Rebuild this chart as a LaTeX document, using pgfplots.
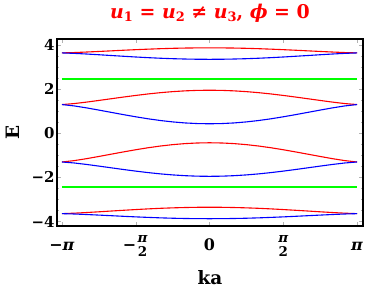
\documentclass[border=0pt]{standalone}
\usepackage{amsmath}
\usepackage{pgfplots}
\usepackage{pgfplotstable}
\pgfplotsset{compat=1.18}
\usepackage{fontspec}
\setmainfont{DejaVu Serif}
\definecolor{mred}{rgb}{1,0,0}
\definecolor{mblue}{rgb}{0,0,1}
\definecolor{mgreen}{rgb}{0,1,0}
\newcommand{\fr}{\ensuremath{\genfrac{}{}{0pt}{}{\text{\fontsize{13.5}{13.5}\selectfont\bfseries\itshape π}}{\text{\fontsize{13.5}{13.5}\selectfont\bfseries 2}}}}
\newcommand{\sub}[1]{\raisebox{-0.3ex}{\fontsize{13}{13}\selectfont\upshape #1}}
\pgfplotstableread{
k r1 b1 r2 b2 r3 b3 r4 b4
-3.14159 3.640 3.640 1.300 1.300 -1.300 -1.300 -3.640 -3.640
-2.87979 3.656 3.619 1.346 1.238 -1.238 -1.346 -3.619 -3.656
-2.61799 3.680 3.590 1.412 1.150 -1.150 -1.412 -3.590 -3.680
-2.35619 3.706 3.557 1.487 1.050 -1.050 -1.487 -3.557 -3.706
-2.09440 3.733 3.522 1.564 0.947 -0.947 -1.564 -3.522 -3.733
-1.83260 3.761 3.488 1.641 0.844 -0.844 -1.641 -3.488 -3.761
-1.57080 3.787 3.455 1.714 0.746 -0.746 -1.714 -3.455 -3.787
-1.30900 3.810 3.425 1.781 0.656 -0.656 -1.781 -3.425 -3.810
-1.04720 3.831 3.399 1.839 0.578 -0.578 -1.839 -3.399 -3.831
-0.78540 3.848 3.378 1.886 0.515 -0.515 -1.886 -3.378 -3.848
-0.52360 3.860 3.363 1.921 0.468 -0.468 -1.921 -3.363 -3.860
-0.26180 3.867 3.353 1.943 0.440 -0.440 -1.943 -3.353 -3.867
0.00000 3.870 3.350 1.950 0.430 -0.430 -1.950 -3.350 -3.870
0.26180 3.867 3.353 1.943 0.440 -0.440 -1.943 -3.353 -3.867
0.52360 3.860 3.363 1.921 0.468 -0.468 -1.921 -3.363 -3.860
0.78540 3.848 3.378 1.886 0.515 -0.515 -1.886 -3.378 -3.848
1.04720 3.831 3.399 1.839 0.578 -0.578 -1.839 -3.399 -3.831
1.30900 3.810 3.425 1.781 0.656 -0.656 -1.781 -3.425 -3.810
1.57080 3.787 3.455 1.714 0.746 -0.746 -1.714 -3.455 -3.787
1.83260 3.761 3.488 1.641 0.844 -0.844 -1.641 -3.488 -3.761
2.09440 3.733 3.522 1.564 0.947 -0.947 -1.564 -3.522 -3.733
2.35619 3.706 3.557 1.487 1.050 -1.050 -1.487 -3.557 -3.706
2.61799 3.680 3.590 1.412 1.150 -1.150 -1.412 -3.590 -3.680
2.87979 3.656 3.619 1.346 1.238 -1.238 -1.346 -3.619 -3.656
3.14159 3.640 3.640 1.300 1.300 -1.300 -1.300 -3.640 -3.640
}\bands
\pgfplotstableread{
k g1 g2
-3.14159 2.46 -2.43
0.00000 2.46 -2.43
3.14159 2.46 -2.43
}\flat
\begin{document}
\begin{tikzpicture}[x=1bp,y=1bp]
\path[use as bounding box] (0,0) rectangle (366,291);
\begin{axis}[
  at={(57bp,65bp)}, anchor=south west,
  scale only axis, width=306bp, height=187bp,
  xmin=-3.248, xmax=3.269, ymin=-4.2, ymax=4.27,
  axis line style={black, line width=1.4bp},
  xtick={-3.14159,-1.5708,0,1.5708,3.14159},
  xticklabels={−\textit{π}, −\fr, 0, \fr, \textit{π}},
  ytick={-4,-2,0,2,4},
  yticklabels={−4,−2,0,2,4},
  minor x tick num=1, minor y tick num=3,
  tick style={gray!60, line width=0.4bp},
  major tick length=4bp, minor tick length=2bp,
  tick align=inside,
  xticklabel style={font=\bfseries\fontsize{16}{16}\selectfont, anchor=base, yshift=-24.5bp},
  yticklabel style={font=\bfseries\fontsize{15}{15}\selectfont, xshift=1bp},
  xlabel={ka}, ylabel={E},
  xlabel style={font=\bfseries\fontsize{18.5}{18.5}\selectfont, at={(axis description cs:0.5,-0.278)}, anchor=center},
  ylabel style={font=\bfseries\fontsize{18.5}{18.5}\selectfont, at={(axis description cs:-0.144,0.5)}, anchor=center},
  title={\textit{u}\sub{1} = \textit{u}\sub{2} ≠ \textit{u}\sub{3}, \textit{ϕ} = 0},
  title style={font=\bfseries\fontsize{19}{22}\selectfont, text=mred, at={(axis description cs:0.5,1.075)}, anchor=base},
  every axis plot/.append style={line width=1.1bp},
  clip=true,
]
\addplot[mred] table[x=k,y=r1]{\bands};
\addplot[mblue] table[x=k,y=b1]{\bands};
\addplot[mred] table[x=k,y=r2]{\bands};
\addplot[mblue] table[x=k,y=b2]{\bands};
\addplot[mred] table[x=k,y=r3]{\bands};
\addplot[mblue] table[x=k,y=b3]{\bands};
\addplot[mred] table[x=k,y=r4]{\bands};
\addplot[mblue] table[x=k,y=b4]{\bands};
\addplot[mgreen, line width=1.2bp] table[x=k,y=g1]{\flat};
\addplot[mgreen, line width=1.2bp] table[x=k,y=g2]{\flat};
\end{axis}
\end{tikzpicture}
\end{document}
